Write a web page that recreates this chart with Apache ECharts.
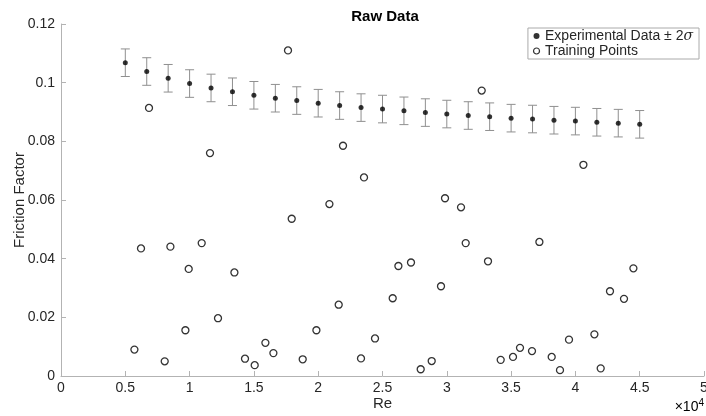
<!DOCTYPE html>
<html>
<head>
<meta charset="utf-8">
<script src="https://cdn.jsdelivr.net/npm/echarts@6/dist/echarts.min.js"></script>
<style>html,body{margin:0;padding:0;background:#fff}#c{width:706px;height:416px}</style>
</head>
<body>
<div id="c"></div>
<script>
// Experimental data (Re, friction factor, 2-sigma half width)
var expRe = [5000, 6667, 8333, 10000, 11667, 13333, 15000, 16667, 18333, 20000, 21667, 23333, 25000,
             26667, 28333, 30000, 31667, 33333, 35000, 36667, 38333, 40000, 41667, 43333, 45000];
var expF = [0.1068, 0.1038, 0.1015, 0.0997, 0.0982, 0.0969, 0.0957, 0.0947, 0.0939, 0.0930, 0.0922, 0.0915, 0.0910,
            0.0904, 0.0898, 0.0893, 0.0888, 0.0884, 0.0879, 0.0876, 0.0872, 0.0869, 0.0865, 0.0862, 0.0858];
var exp2Sigma = [0.0047, 0.0047, 0.0047, 0.0047, 0.0047, 0.0047, 0.0047, 0.0047, 0.0047, 0.0047, 0.0047, 0.0047, 0.0047,
                 0.0047, 0.0047, 0.0047, 0.0047, 0.0047, 0.0047, 0.0047, 0.0047, 0.0047, 0.0047, 0.0047, 0.0047];

// Training points
var trainRe = [5708, 6221, 6843, 8064, 8507, 9673, 9930, 10941, 11586, 12209, 13484, 14308, 15062, 15894, 16516,
               17652, 17940, 18795, 19860, 20871, 21594, 21929, 23328, 23562, 24417, 25793, 26236, 27216, 27970,
               28826, 29549, 29861, 31105, 31470, 32714, 33204, 34191, 35148, 35692, 36625, 37200, 38157, 38802,
               39502, 40622, 41477, 41967, 42690, 43779, 44510];
var trainF = [0.0090, 0.0435, 0.0914, 0.0050, 0.0441, 0.0156, 0.0365, 0.0453, 0.0760, 0.0197, 0.0353, 0.0059, 0.0037, 0.0113, 0.0078,
              0.1110, 0.0536, 0.0057, 0.0156, 0.0586, 0.0243, 0.0785, 0.0060, 0.0677, 0.0128, 0.0265, 0.0375, 0.0387, 0.0023,
              0.0051, 0.0306, 0.0606, 0.0575, 0.0453, 0.0973, 0.0391, 0.0055, 0.0065, 0.0096, 0.0085, 0.0457, 0.0065, 0.0020,
              0.0124, 0.0720, 0.0142, 0.0026, 0.0289, 0.0263, 0.0367];

var xTicks = [0, 0.5, 1, 1.5, 2, 2.5, 3, 3.5, 4, 4.5, 5]; // in units of 1e4
var yTicks = [0, 0.02, 0.04, 0.06, 0.08, 0.1, 0.12];

var expData = expRe.map(function (x, i) { return [x, expF[i]]; });
var errData = expRe.map(function (x, i) { return [x, expF[i] - exp2Sigma[i], expF[i] + exp2Sigma[i]]; });
var trainData = trainRe.map(function (x, i) { return [x, trainF[i]]; });

var FONT = '"Liberation Sans", Arial, Helvetica, sans-serif';
var TXT = '#262626';
var AX = '#b3b3b3';

var chart = echarts.init(document.getElementById('c'), null, { renderer: 'canvas' });
chart.setOption({
  animation: false,
  backgroundColor: '#fff',
  title: {
    text: 'Raw Data',
    left: 380, top: 4, textAlign: 'center',
    textStyle: { fontFamily: FONT, fontSize: 15, fontWeight: 'bold', color: '#000' }
  },
  grid: { left: 61, right: 2, top: 24, bottom: 40, containLabel: false, outerBoundsMode: 'none' },
  legend: {
    orient: 'vertical',
    right: 7, top: 28,
    padding: [1, 6, 1, 5],
    itemGap: 1,
    itemWidth: 7, itemHeight: 6,
    backgroundColor: '#fff',
    borderColor: '#aaaaaa', borderWidth: 1, borderRadius: 0,
    textStyle: {
      fontFamily: FONT, fontSize: 14, color: TXT,
      rich: {
        s: { fontFamily: '"DejaVu Serif", serif', fontStyle: 'italic', fontSize: 14, color: TXT }
      }
    },
    formatter: function (name) {
      if (name.indexOf('Experimental') === 0) return 'Experimental Data \u00b1 2{s|\u03c3}';
      return name;
    },
    data: [
      { name: 'Experimental Data', icon: 'circle', itemStyle: { color: '#000', borderWidth: 0 } },
      { name: 'Training Points', icon: 'circle', itemStyle: { color: '#fff', borderColor: '#000', borderWidth: 1.2 } }
    ]
  },
  xAxis: {
    type: 'value', min: 0, max: 50000, interval: 5000,
    name: 'Re', nameLocation: 'middle', nameGap: 20, nameMoveOverlap: false,
    nameTextStyle: { fontFamily: FONT, fontSize: 15, color: TXT },
    axisLine: { show: true, lineStyle: { color: AX, width: 1 } },
    axisTick: { show: true, inside: true, length: 5, lineStyle: { color: AX } },
    splitLine: { show: false },
    axisLabel: {
      fontFamily: FONT, fontSize: 14, color: TXT, margin: 5,
      showMinLabel: true, showMaxLabel: true,
      formatter: function (v) { return String(xTicks[Math.round(v / 5000)]); }
    }
  },
  yAxis: {
    type: 'value', min: 0, max: 0.12, interval: 0.02,
    name: 'Friction Factor', nameLocation: 'middle', nameGap: 34, nameRotate: 90, nameMoveOverlap: false,
    nameTextStyle: { fontFamily: FONT, fontSize: 15, color: TXT },
    axisLine: { show: true, lineStyle: { color: AX, width: 1 } },
    axisTick: { show: true, inside: true, length: 5, lineStyle: { color: AX } },
    splitLine: { show: false },
    axisLabel: {
      fontFamily: FONT, fontSize: 14, color: TXT, margin: 6,
      showMinLabel: true, showMaxLabel: true,
      formatter: function (v) { return String(yTicks[Math.round(v / 0.02)]); }
    }
  },
  graphic: [{
    type: 'text', right: 2, bottom: 2,
    style: {
      text: '{a|\u00d710}{b|4}',
      rich: {
        a: { fontFamily: FONT, fontSize: 14, color: TXT },
        b: { fontFamily: FONT, fontSize: 10, color: TXT, verticalAlign: 'top', padding: [0, 0, 8, 0] }
      }
    }
  }],
  series: [
    {
      name: 'errbars', type: 'custom', data: errData, encode: { x: 0, y: [1, 2] }, z: 1,
      silent: true,
      renderItem: function (params, api) {
        var x = api.value(0);
        var top = api.coord([x, api.value(2)]);
        var bot = api.coord([x, api.value(1)]);
        var hw = 4.5;
        var st = { stroke: '#8f8f8f', lineWidth: 1 };
        return {
          type: 'group',
          children: [
            { type: 'line', shape: { x1: top[0], y1: top[1], x2: bot[0], y2: bot[1] }, style: st },
            { type: 'line', shape: { x1: top[0] - hw, y1: top[1], x2: top[0] + hw, y2: top[1] }, style: st },
            { type: 'line', shape: { x1: bot[0] - hw, y1: bot[1], x2: bot[0] + hw, y2: bot[1] }, style: st }
          ]
        };
      }
    },
    {
      name: 'Experimental Data', type: 'scatter', data: expData, z: 3,
      symbol: 'circle', symbolSize: 5,
      itemStyle: { color: '#000' }
    },
    {
      name: 'Training Points', type: 'scatter', data: trainData, z: 2,
      symbol: 'circle', symbolSize: 7,
      itemStyle: { color: '#fff', borderColor: '#000', borderWidth: 1.3 }
    }
  ]
});
</script>
</body>
</html>
